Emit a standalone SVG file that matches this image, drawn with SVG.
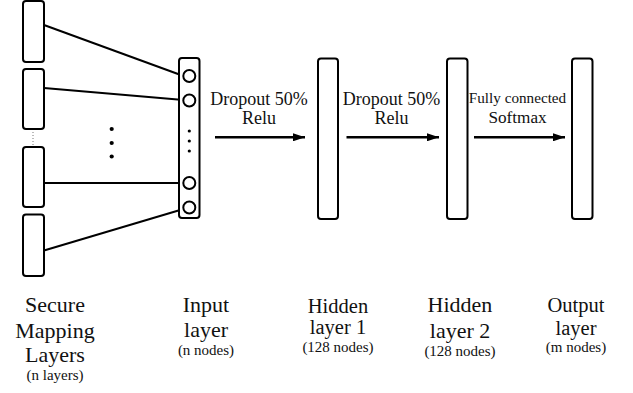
<svg xmlns="http://www.w3.org/2000/svg" width="633" height="393" viewBox="0 0 633 393">
<style>
.box{fill:#fff;stroke:#000;stroke-width:2}
.ln{stroke:#000;stroke-width:2;fill:none}
.ar{stroke:#000;stroke-width:2.6;fill:none}
.dot{fill:#000}
.t{font-family:'Liberation Serif','Times New Roman','DejaVu Serif',serif;fill:#111;text-anchor:middle}
.big{font-size:22px}
.mid{font-size:20.5px}
.sm{font-size:15px}
.op{font-size:18px}
</style>
<defs>
<marker id="ah" viewBox="0 0 12 8" refX="12" refY="4" markerWidth="12" markerHeight="8" markerUnits="userSpaceOnUse" orient="auto">
<path d="M0,0 L12,4 L0,8 Z" fill="#000"/>
</marker>
</defs>
<rect width="633" height="393" fill="#fff"/>
<g id="connectors">
<line class="ln" x1="44" y1="25" x2="183.5" y2="76"/>
<line class="ln" x1="44" y1="88" x2="183.5" y2="100"/>
<line class="ln" x1="44" y1="183" x2="183.5" y2="183"/>
<line class="ln" x1="44" y1="250.5" x2="183.5" y2="209"/>
<line class="ar" x1="215" y1="137.3" x2="305" y2="137.3" marker-end="url(#ah)"/>
<line class="ar" x1="346.5" y1="137.3" x2="439" y2="137.3" marker-end="url(#ah)"/>
<line class="ar" x1="474" y1="137.3" x2="565" y2="137.3" marker-end="url(#ah)"/>
</g>
<g id="secure-mapping">
<rect class="box" x="23" y="1" width="21" height="61" rx="3"/>
<rect class="box" x="23" y="69" width="21" height="60" rx="3"/>
<rect class="box" x="23" y="147" width="21" height="60" rx="3"/>
<rect class="box" x="23" y="214.5" width="21" height="61.5" rx="3"/>
<line x1="33" y1="132" x2="33" y2="145" stroke="#777" stroke-width="1" stroke-dasharray="1,2"/>
<circle class="dot" cx="111.7" cy="129" r="2.1"/>
<circle class="dot" cx="111.7" cy="143" r="2.1"/>
<circle class="dot" cx="111.7" cy="156.5" r="2.1"/>
<text class="t big" font-family="Liberation Serif, serif" x="55" y="312">Secure</text>
<text class="t big" font-family="Liberation Serif, serif" x="55" y="338">Mapping</text>
<text class="t big" font-family="Liberation Serif, serif" x="55" y="362">Layers</text>
<text class="t sm" font-family="Liberation Serif, serif" x="55" y="380">(n layers)</text>
</g>
<g id="input-layer">
<rect class="box" x="179" y="58" width="20.5" height="160" rx="3"/>
<circle class="box" cx="189.3" cy="76" r="6"/>
<circle class="box" cx="189.3" cy="100.5" r="6"/>
<circle class="box" cx="189.3" cy="183" r="6"/>
<circle class="box" cx="189.3" cy="207.5" r="6"/>
<circle class="dot" cx="189.3" cy="131" r="1.6"/>
<circle class="dot" cx="189.3" cy="141" r="1.6"/>
<circle class="dot" cx="189.3" cy="151" r="1.6"/>
<text class="t big" x="206" y="312">Input</text>
<text class="t big" x="206" y="336.5">layer</text>
<text class="t sm" x="206" y="355">(n nodes)</text>
</g>
<g id="hidden-1">
<rect class="box" x="318" y="58.5" width="20" height="160.5" rx="3"/>
<text class="t mid" x="338" y="313">Hidden</text>
<text class="t mid" x="338" y="334">layer 1</text>
<text class="t sm" x="338" y="352">(128 nodes)</text>
</g>
<g id="hidden-2">
<rect class="box" x="447" y="58.5" width="20.5" height="160.5" rx="3"/>
<text class="t big" x="460" y="312">Hidden</text>
<text class="t big" x="460" y="338">layer 2</text>
<text class="t sm" x="460" y="356">(128 nodes)</text>
</g>
<g id="output-layer">
<rect class="box" x="572" y="58.5" width="20.5" height="160.5" rx="3"/>
<text class="t mid" x="576" y="312">Output</text>
<text class="t mid" x="576" y="335">layer</text>
<text class="t sm" x="576" y="352">(m nodes)</text>
</g>
<g id="edge-labels">
<text class="t op" x="259" y="105">Dropout 50%</text>
<text class="t op" x="259" y="124">Relu</text>
<text class="t op" x="391.5" y="105">Dropout 50%</text>
<text class="t op" x="391.5" y="124">Relu</text>
<text class="t" style="font-size:15.2px" x="517.5" y="103">Fully connected</text>
<text class="t" style="font-size:17.2px" x="517.5" y="122.7">Softmax</text>
</g>
</svg>
